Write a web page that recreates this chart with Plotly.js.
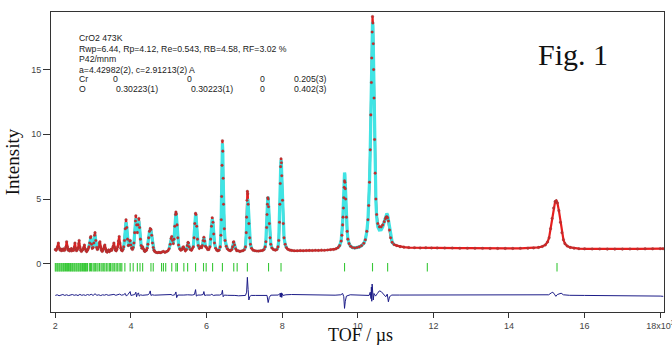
<!DOCTYPE html>
<html><head><meta charset="utf-8">
<script src="https://cdn.plot.ly/plotly-3.0.1.min.js"></script>
<style>html,body{margin:0;padding:0;background:#fff}#chart{width:672px;height:345px}</style>
</head><body><div id="chart"></div>
<script>
// Observed profile (TOF in 10^3 us, intensity)
const obsPoints = [
[2.00,1.10],[2.02,1.05],[2.04,1.15],[2.06,1.30],[2.08,1.60],[2.10,1.25],[2.12,1.08],[2.14,1.12],[2.16,1.00],[2.18,1.10],
[2.20,1.05],[2.22,1.15],[2.24,1.02],[2.26,1.12],[2.28,1.30],[2.30,1.70],[2.32,1.30],[2.34,1.05],[2.36,1.10],[2.38,0.98],
[2.40,1.08],[2.42,1.15],[2.44,1.02],[2.46,1.10],[2.48,1.05],[2.50,1.25],[2.52,1.60],[2.54,1.20],[2.56,1.00],[2.58,1.08],
[2.60,1.20],[2.62,1.55],[2.63,1.80],[2.65,1.30],[2.67,1.05],[2.69,0.95],[2.71,1.05],[2.73,1.10],[2.75,1.25],[2.77,1.45],
[2.79,1.15],[2.81,1.00],[2.83,0.95],[2.85,1.05],[2.87,1.15],[2.89,1.30],[2.91,1.60],[2.93,2.00],[2.94,2.10],[2.96,1.50],
[2.98,1.20],[3.00,1.25],[3.02,1.60],[3.04,2.20],[3.05,2.40],[3.07,1.80],[3.09,1.25],[3.11,1.10],[3.13,1.15],[3.15,1.30],
[3.17,1.60],[3.18,1.70],[3.20,1.30],[3.22,1.05],[3.24,0.95],[3.26,1.05],[3.28,1.15],[3.30,1.35],[3.31,1.45],[3.33,1.15],
[3.35,0.95],[3.37,0.90],[3.39,1.00],[3.41,1.05],[3.43,0.95],[3.45,1.00],[3.47,1.10],[3.49,1.05],[3.51,1.15],[3.53,1.35],
[3.55,1.60],[3.57,1.25],[3.59,1.05],[3.61,1.00],[3.63,1.10],[3.65,1.30],[3.67,1.75],[3.69,2.10],[3.71,1.60],[3.73,1.20],
[3.75,1.05],[3.77,1.00],[3.79,1.10],[3.81,1.30],[3.83,1.80],[3.85,2.70],[3.87,3.40],[3.89,2.80],[3.91,1.90],[3.93,1.40],
[3.95,1.45],[3.97,1.75],[3.98,1.80],[4.00,1.45],[4.02,1.20],[4.04,1.10],[4.06,1.25],[4.08,1.60],[4.10,2.40],[4.12,3.30],
[4.13,3.70],[4.15,3.00],[4.17,2.40],[4.19,3.00],[4.21,3.50],[4.23,2.80],[4.25,1.90],[4.27,1.40],[4.29,1.20],[4.31,1.30],
[4.33,1.15],[4.35,1.00],[4.37,0.95],[4.39,1.00],[4.41,1.05],[4.43,1.20],[4.45,1.50],[4.47,2.00],[4.49,2.50],[4.51,2.70],
[4.53,2.65],[4.55,2.20],[4.57,1.60],[4.59,1.25],[4.61,1.05],[4.63,0.95],[4.66,0.88],[4.70,0.85],[4.74,0.88],[4.78,0.85],
[4.82,0.90],[4.86,0.95],[4.90,0.88],[4.94,0.92],[4.98,1.00],[5.01,1.15],[5.04,1.50],[5.06,1.95],[5.08,2.10],[5.10,1.80],
[5.12,1.55],[5.14,1.90],[5.16,2.90],[5.18,3.80],[5.19,4.00],[5.20,3.85],[5.22,3.00],[5.24,2.00],[5.26,1.45],[5.29,1.15],
[5.32,1.05],[5.35,1.10],[5.37,1.25],[5.39,1.30],[5.41,1.15],[5.44,1.00],[5.47,1.10],[5.49,1.40],[5.51,1.65],[5.52,1.60],
[5.54,1.30],[5.57,1.10],[5.60,1.05],[5.62,1.15],[5.65,1.30],[5.67,2.00],[5.69,3.10],[5.71,3.90],[5.72,3.80],[5.74,2.90],
[5.76,1.90],[5.78,1.40],[5.81,1.20],[5.84,1.30],[5.87,1.25],[5.89,1.40],[5.91,1.80],[5.93,2.05],[5.95,1.75],[5.97,1.35],
[6.00,1.25],[6.03,1.10],[6.06,1.10],[6.09,1.30],[6.11,1.90],[6.13,2.90],[6.15,3.55],[6.17,3.20],[6.19,2.30],[6.21,1.60],
[6.24,1.20],[6.27,1.05],[6.30,1.00],[6.33,1.05],[6.36,1.30],[6.38,2.20],[6.39,3.40],[6.40,5.20],[6.41,7.60],[6.42,9.50],
[6.43,8.70],[6.44,6.60],[6.45,4.60],[6.47,2.70],[6.49,1.80],[6.52,1.35],[6.55,1.15],[6.59,1.05],[6.63,1.00],[6.67,1.10],
[6.69,1.30],[6.71,1.65],[6.72,1.70],[6.74,1.45],[6.77,1.15],[6.80,1.00],[6.84,1.00],[6.88,0.95],[6.92,0.98],[6.96,1.00],
[7.00,1.08],[7.03,1.30],[7.05,2.40],[7.06,3.60],[7.07,4.90],[7.08,5.60],[7.09,5.40],[7.10,4.60],[7.12,3.10],[7.14,2.00],
[7.16,1.50],[7.19,1.20],[7.23,1.05],[7.28,1.00],[7.33,0.98],[7.38,0.98],[7.43,1.00],[7.48,1.02],[7.52,1.10],[7.55,1.30],
[7.57,1.70],[7.59,2.80],[7.60,3.80],[7.61,4.60],[7.62,5.10],[7.63,5.00],[7.64,4.40],[7.66,3.10],[7.68,2.00],[7.70,1.50],
[7.73,1.22],[7.77,1.10],[7.82,1.05],[7.86,1.10],[7.89,1.30],[7.91,1.80],[7.93,3.20],[7.94,4.60],[7.95,6.20],[7.96,7.50],
[7.97,8.10],[7.98,7.80],[7.99,6.80],[8.01,4.90],[8.03,3.10],[8.05,2.00],[8.08,1.50],[8.11,1.25],[8.15,1.12],[8.20,1.05],
[8.25,1.03],[8.32,1.00],[8.40,1.00],[8.48,1.02],[8.56,1.00],[8.64,1.02],[8.72,1.03],[8.80,1.02],[8.88,1.04],[8.96,1.03],
[9.04,1.05],[9.12,1.04],[9.20,1.06],[9.28,1.08],[9.36,1.10],[9.42,1.15],[9.48,1.25],[9.52,1.40],[9.56,1.75],[9.58,2.20],
[9.60,3.00],[9.61,3.60],[9.62,4.30],[9.63,5.10],[9.64,5.90],[9.65,6.40],[9.66,6.30],[9.67,5.80],[9.68,5.00],[9.70,3.60],
[9.72,2.50],[9.74,1.90],[9.77,1.55],[9.81,1.35],[9.86,1.25],[9.92,1.22],[9.98,1.25],[10.04,1.30],[10.10,1.40],[10.16,1.58],
[10.20,1.85],[10.24,2.50],[10.27,3.40],[10.29,4.50],[10.31,6.30],[10.33,8.80],[10.345,11.50],[10.36,14.00],[10.37,15.90],[10.38,17.90],
[10.39,19.10],[10.40,18.60],[10.41,17.00],[10.42,15.00],[10.43,12.80],[10.445,9.60],[10.46,7.00],[10.48,5.00],[10.50,3.80],[10.53,3.10],
[10.57,2.85],[10.62,2.85],[10.66,3.00],[10.70,3.25],[10.73,3.48],[10.75,3.60],[10.77,3.62],[10.79,3.55],[10.81,3.30],[10.84,2.60],
[10.87,2.00],[10.91,1.65],[10.96,1.48],[11.03,1.40],[11.12,1.32],[11.22,1.28],[11.35,1.25],[11.50,1.24],[11.65,1.22],[11.80,1.23],
[11.95,1.22],[12.10,1.22],[12.30,1.21],[12.50,1.21],[12.70,1.20],[12.90,1.20],[13.10,1.19],[13.30,1.19],[13.50,1.18],[13.70,1.18],
[13.90,1.18],[14.10,1.18],[14.30,1.19],[14.50,1.20],[14.65,1.22],[14.78,1.26],[14.88,1.33],[14.96,1.45],[15.02,1.68],[15.06,2.00],
[15.10,2.70],[15.14,3.50],[15.18,4.30],[15.22,4.80],[15.25,4.87],[15.28,4.70],[15.32,4.10],[15.36,3.20],[15.40,2.40],[15.44,1.85],
[15.48,1.55],[15.54,1.37],[15.62,1.26],[15.72,1.20],[15.85,1.16],[16.00,1.15],[16.20,1.14],[16.40,1.14],[16.60,1.13],[16.80,1.13],
[17.00,1.13],[17.20,1.14],[17.40,1.14],[17.60,1.15],[17.80,1.15],[18.00,1.16],[18.08,1.16]
];
// Calculated profile, where it shows above the observed band (null = break)
const calcPoints = [
[2.88,1.20],[2.91,1.55],[2.93,1.95],[2.94,2.00],[2.96,1.60],[2.98,1.30],[3.00,1.30],[3.02,1.65],[3.04,2.15],[3.05,2.25],[3.07,1.75],[3.09,1.30],[3.12,1.10],[null,null],
[3.79,1.10],[3.81,1.30],[3.83,1.85],[3.85,2.75],[3.87,3.20],[3.89,2.85],[3.91,1.95],[3.93,1.45],[3.95,1.45],[3.97,1.70],[3.98,1.75],[4.00,1.45],[4.02,1.20],[4.04,1.10],
[4.06,1.25],[4.08,1.60],[4.10,2.45],[4.12,3.30],[4.13,3.50],[4.15,3.00],[4.17,2.50],[4.19,3.00],[4.21,3.30],[4.23,2.75],[4.25,1.90],[4.27,1.40],[4.29,1.20],[null,null],
[4.43,1.20],[4.45,1.50],[4.47,2.00],[4.49,2.45],[4.51,2.60],[4.53,2.55],[4.55,2.20],[4.57,1.60],[4.59,1.25],[4.61,1.05],[null,null],
[5.01,1.15],[5.04,1.50],[5.06,1.90],[5.08,2.05],[5.10,1.80],[5.12,1.55],[5.14,1.90],[5.16,2.90],[5.18,3.75],[5.19,3.90],[5.20,3.80],[5.22,3.00],[5.24,2.00],[5.26,1.45],[5.29,1.15],[null,null],
[5.47,1.10],[5.49,1.40],[5.51,1.60],[5.52,1.60],[5.54,1.30],[5.57,1.10],[null,null],
[5.65,1.30],[5.67,2.00],[5.69,3.10],[5.71,3.80],[5.72,3.75],[5.74,2.90],[5.76,1.90],[5.78,1.40],[5.81,1.20],[null,null],
[5.89,1.40],[5.91,1.80],[5.93,2.00],[5.95,1.75],[5.97,1.35],[null,null],
[6.09,1.30],[6.11,1.90],[6.13,2.90],[6.15,3.45],[6.17,3.20],[6.19,2.30],[6.21,1.60],[6.24,1.20],[null,null],
[6.33,1.05],[6.36,1.30],[6.38,2.20],[6.39,3.40],[6.40,5.20],[6.41,7.50],[6.42,9.30],[6.43,8.70],[6.44,6.60],[6.45,4.60],[6.47,2.70],[6.49,1.80],[6.52,1.35],[6.55,1.15],[null,null],
[6.67,1.10],[6.69,1.30],[6.71,1.60],[6.72,1.65],[6.74,1.45],[6.77,1.15],[null,null],
[7.00,1.08],[7.03,1.30],[7.05,2.20],[7.06,3.20],[7.07,4.20],[7.08,4.80],[7.09,5.00],[7.10,4.70],[7.12,3.30],[7.14,2.10],[7.16,1.50],[7.19,1.20],[null,null],
[7.52,1.10],[7.55,1.30],[7.57,1.80],[7.59,2.90],[7.60,3.90],[7.61,4.70],[7.62,5.15],[7.63,5.10],[7.64,4.50],[7.66,3.10],[7.68,2.00],[7.70,1.50],[7.73,1.22],[null,null],
[7.86,1.10],[7.89,1.30],[7.91,1.80],[7.93,3.20],[7.94,4.60],[7.95,6.10],[7.96,7.40],[7.97,8.00],[7.98,7.80],[7.99,6.80],[8.01,4.90],[8.03,3.10],[8.05,2.00],[8.08,1.50],[8.11,1.25],[null,null],
[9.48,1.25],[9.52,1.40],[9.56,1.75],[9.58,2.30],[9.60,3.20],[9.61,3.90],[9.62,4.70],[9.63,5.60],[9.64,6.50],[9.65,7.05],[9.66,6.90],[9.67,6.20],[9.68,5.20],[9.70,3.60],
[9.72,2.50],[9.74,1.90],[9.77,1.55],[9.81,1.35],[9.86,1.25],[9.92,1.22],[9.98,1.25],[10.04,1.30],[10.10,1.40],[10.16,1.58],[10.20,1.85],[10.24,2.50],[10.27,3.40],
[10.29,4.50],[10.31,6.30],[10.33,8.80],[10.345,11.50],[10.36,14.00],[10.37,16.00],[10.38,17.90],[10.39,18.65],[10.40,18.40],[10.41,17.00],[10.42,15.00],[10.43,12.80],
[10.445,9.60],[10.46,6.80],[10.48,4.80],[10.50,3.60],[10.53,2.85],[10.57,2.60],[10.62,2.62],[10.66,2.85],[10.70,3.20],[10.73,3.60],[10.75,3.82],[10.77,3.88],
[10.79,3.75],[10.81,3.40],[10.84,2.65],[10.87,2.00],[10.91,1.65],[10.96,1.48]
];
// Difference curve (obs - calc), drawn with its offset below the pattern
const diffPoints = [
[2.00,-2.45],[2.05,-2.40],[2.10,-2.47],[2.15,-2.42],[2.20,-2.38],[2.25,-2.45],[2.30,-2.40],[2.35,-2.46],[2.40,-2.42],[2.45,-2.38],
[2.50,-2.44],[2.55,-2.40],[2.60,-2.46],[2.65,-2.37],[2.70,-2.44],[2.75,-2.40],[2.80,-2.45],[2.85,-2.38],[2.90,-2.43],[2.95,-2.36],
[3.00,-2.45],[3.05,-2.32],[3.10,-2.44],[3.15,-2.40],[3.20,-2.46],[3.25,-2.40],[3.30,-2.43],[3.35,-2.38],[3.40,-2.44],[3.45,-2.40],
[3.50,-2.42],[3.55,-2.37],[3.60,-2.44],[3.65,-2.40],[3.70,-2.35],[3.75,-2.43],[3.80,-2.40],[3.85,-2.30],[3.88,-2.50],[3.92,-2.38],
[3.96,-2.25],[3.98,-2.15],[4.00,-2.45],[4.04,-2.40],[4.10,-2.38],[4.13,-2.20],[4.15,-2.55],[4.17,-2.35],[4.20,-2.25],[4.22,-2.50],
[4.26,-2.40],[4.30,-2.44],[4.35,-2.42],[4.40,-2.44],[4.45,-2.40],[4.49,-2.30],[4.51,-2.10],[4.53,-2.45],[4.56,-2.40],[4.62,-2.43],
[4.70,-2.42],[4.80,-2.43],[4.90,-2.41],[5.00,-2.42],[5.06,-2.38],[5.10,-2.44],[5.16,-2.40],[5.19,-2.18],[5.21,-2.62],[5.24,-2.42],
[5.30,-2.43],[5.40,-2.42],[5.50,-2.40],[5.55,-2.43],[5.62,-2.42],[5.68,-2.38],[5.71,-2.00],[5.73,-2.50],[5.77,-2.42],[5.85,-2.42],
[5.91,-2.38],[5.93,-2.15],[5.95,-2.45],[6.00,-2.42],[6.10,-2.42],[6.14,-2.36],[6.18,-2.45],[6.25,-2.42],[6.35,-2.42],[6.40,-2.35],
[6.42,-2.05],[6.44,-2.55],[6.47,-2.42],[6.55,-2.44],[6.65,-2.43],[6.75,-2.45],[6.85,-2.48],[6.95,-2.47],[7.03,-2.45],[7.06,-2.20],
[7.08,-1.05],[7.10,-2.00],[7.12,-2.80],[7.14,-2.55],[7.18,-2.45],[7.30,-2.45],[7.45,-2.44],[7.56,-2.42],[7.60,-2.45],[7.63,-3.00],
[7.66,-2.60],[7.70,-2.43],[7.80,-2.42],[7.90,-2.42],[7.94,-2.30],[7.95,-2.55],[7.96,-2.28],[7.97,-2.58],[7.98,-2.25],[7.99,-2.60],
[8.00,-2.30],[8.02,-2.45],[8.10,-2.40],[8.25,-2.38],[8.50,-2.40],[8.80,-2.41],[9.10,-2.42],[9.40,-2.43],[9.55,-2.40],[9.60,-2.30],
[9.63,-2.55],[9.65,-3.45],[9.67,-2.90],[9.70,-2.50],[9.80,-2.40],[10.00,-2.42],[10.20,-2.40],[10.30,-2.45],[10.33,-2.20],[10.35,-2.70],
[10.36,-1.80],[10.37,-2.90],[10.38,-1.57],[10.39,-2.75],[10.40,-1.90],[10.41,-2.80],[10.43,-2.30],[10.47,-2.50],[10.52,-2.30],[10.57,-2.10],
[10.62,-2.15],[10.68,-2.35],[10.74,-2.55],[10.78,-2.35],[10.81,-2.94],[10.84,-2.55],[10.90,-2.42],[11.10,-2.42],[11.50,-2.42],[12.00,-2.43],
[12.50,-2.43],[13.00,-2.43],[13.50,-2.44],[14.00,-2.44],[14.50,-2.45],[14.90,-2.45],[15.05,-2.40],[15.12,-2.25],[15.16,-2.20],[15.20,-2.35],
[15.24,-2.52],[15.28,-2.38],[15.34,-2.30],[15.38,-2.28],[15.44,-2.40],[15.60,-2.44],[16.00,-2.45],[16.50,-2.45],[17.00,-2.46],[17.50,-2.46],
[18.00,-2.50],[18.08,-2.52]
];
// Bragg reflection positions
const braggTicks = [
2.00,2.02,2.05,2.07,2.10,2.12,2.15,2.17,2.20,2.22,2.25,2.27,2.30,2.32,2.35,2.37,2.40,2.42,2.45,2.47,2.50,2.52,2.55,2.57,2.60,2.62,2.65,2.67,2.70,2.72,2.75,2.77,2.80,2.82,2.85,
2.90,2.93,2.96,3.00,3.03,3.06,3.10,3.13,3.17,3.21,3.24,3.28,3.31,3.35,3.39,3.43,3.46,3.50,3.53,3.57,3.61,3.65,3.69,3.73,3.76,
3.84,3.98,4.06,4.17,4.24,4.31,4.53,4.59,4.81,4.86,4.92,5.08,5.19,5.23,5.40,5.50,5.71,5.92,5.99,6.16,6.42,6.72,6.81,7.08,7.64,7.97,
9.65,10.39,10.79,11.84,15.27
];
const xTickVals = [2,4,6,8,10,12,14,16,18];
const xTickText = ['2','4','6','8','10','12','14','16','18x10<sup>3</sup>'];
const yTickVals = [0,5,10,15];
const yTickText = ['0','5','10','15'];
const infoLines = ['CrO2 473K','Rwp=6.44, Rp=4.12, Re=0.543, RB=4.58, RF=3.02 %','P42/mnm','a=4.42982(2), c=2.91213(2) A'];
const siteRows = [['Cr','0','0','0','0.205(3)'],['O','0.30223(1)','0.30223(1)','0','0.402(3)']];

// ---- drawing ----
const W=672,H=345,ML=51,MR=8,MT=12,MB=33;
const PW=W-ML-MR, PH=H-MT-MB;
const px=x=>(x-ML)/PW, py=y=>(H-MB-y)/PH;
const col=(arr,i)=>arr.map(p=>p[i]);
const TICK_Y=-0.27;

const traces=[
 {x:col(obsPoints,0),y:col(obsPoints,1),mode:'lines',line:{color:'#e61e1e',width:2.2},hoverinfo:'skip'},
 {x:col(calcPoints,0),y:col(calcPoints,1),mode:'lines',line:{color:'#40e4e4',width:3.2},connectgaps:false,hoverinfo:'skip'},
 {x:col(obsPoints,0),y:col(obsPoints,1),mode:'markers',marker:{color:'#d82424',size:2.6,line:{width:0.3,color:'#6a4a4a'}},hoverinfo:'skip'},
 {x:braggTicks,y:braggTicks.map(()=>TICK_Y),mode:'markers',marker:{symbol:'line-ns',size:6,color:'#38c838',line:{color:'#38c838',width:1.1}},hoverinfo:'skip'},
 {x:col(diffPoints,0),y:col(diffPoints,1),mode:'lines',line:{color:'#1c1c88',width:1},hoverinfo:'skip'}
];

const txtFont={family:'Liberation Sans, Arial, sans-serif',size:8.7,color:'#222'};
const ann=[];
const lineY=[38.3,49,59.3,69.7];
infoLines.forEach((t,i)=>ann.push({text:t,xref:'paper',yref:'paper',x:px(77),y:py(lineY[i]),xanchor:'left',yanchor:'middle',showarrow:false,font:txtFont}));
const colX=[[77,111,185,258.3,291.7],[77,113.7,188.7,258.3,291.7]];
const rowY=[79.3,89];
siteRows.forEach((r,ri)=>r.forEach((t,ci)=>ann.push({text:t,xref:'paper',yref:'paper',x:px(colX[ri][ci]),y:py(rowY[ri]),xanchor:'left',yanchor:'middle',showarrow:false,font:txtFont})));
ann.push({text:'Fig. 1',xref:'paper',yref:'paper',x:px(573),y:py(55),xanchor:'center',yanchor:'middle',showarrow:false,font:{family:'Liberation Serif, Times New Roman, serif',size:30,color:'#111'}});
ann.push({text:'TOF / \u00b5s',xref:'paper',yref:'paper',x:px(360),y:py(334.5),xanchor:'center',yanchor:'middle',showarrow:false,font:{family:'Liberation Serif, Times New Roman, serif',size:18,color:'#111'}});

const axisCommon={showline:true,mirror:true,linecolor:'#333',linewidth:1,ticks:'outside',tickcolor:'#333',tickwidth:1,showgrid:false,zeroline:false,automargin:false,
 ticklabeloverflow:'allow',tickfont:{family:'Liberation Sans, Arial, sans-serif',size:9,color:'#444'}};
const layout={
 width:W,height:H,margin:{l:ML,r:MR,t:MT,b:MB,pad:0},
 paper_bgcolor:'#fff',plot_bgcolor:'#fff',showlegend:false,
 xaxis:Object.assign({},axisCommon,{range:[1.886,18.1],tickmode:'array',tickvals:xTickVals,ticktext:xTickText,ticklen:5}),
 yaxis:Object.assign({},axisCommon,{range:[-3.73,19.45],tickmode:'array',tickvals:yTickVals,ticktext:yTickText,ticklen:7,
   title:{text:'Intensity',font:{family:'Liberation Serif, Times New Roman, serif',size:19,color:'#111'},standoff:6}}),
 annotations:ann
};
Plotly.newPlot('chart',traces,layout,{staticPlot:true,displayModeBar:false});
</script></body></html>
